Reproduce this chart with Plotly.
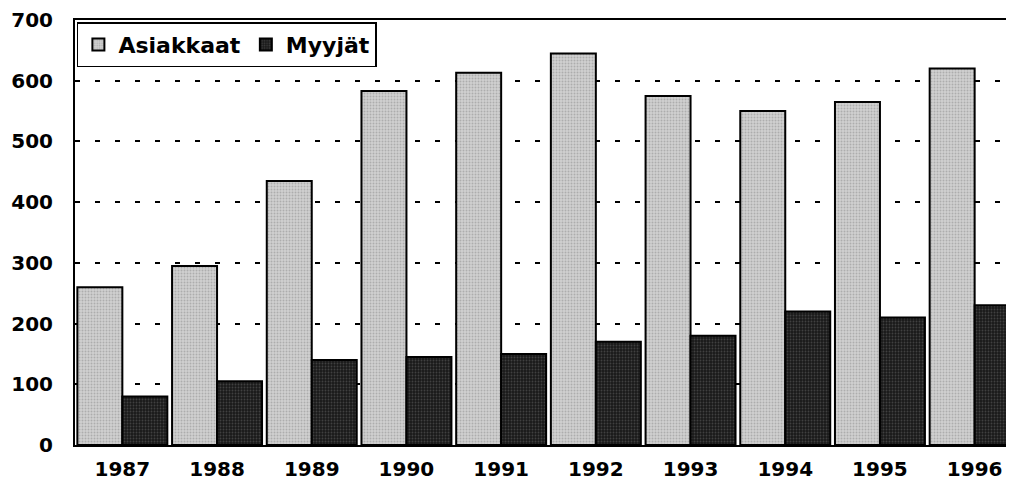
import plotly.graph_objects as go

years = ["1987", "1988", "1989", "1990", "1991", "1992", "1993", "1994", "1995", "1996"]
asiakkaat = [260, 295, 435, 583, 613, 645, 575, 550, 565, 620]
myyjat = [80, 105, 140, 145, 150, 170, 180, 220, 210, 230]
y_ticks = [0, 100, 200, 300, 400, 500, 600, 700]

font_family = "DejaVu Sans, Arial, sans-serif"

fig = go.Figure()
fig.add_trace(go.Bar(
    x=years, y=asiakkaat, name="Asiakkaat",
    marker=dict(color="#c4c4c4", line=dict(color="black", width=2),
                pattern=dict(shape=".", fgcolor="#8a8a8a", bgcolor="#d0d0d0", size=3, solidity=0.35)),
))
fig.add_trace(go.Bar(
    x=years, y=myyjat, name="Myyjät",
    marker=dict(color="#2a2a2a", line=dict(color="black", width=2),
                pattern=dict(shape=".", fgcolor="#666666", bgcolor="#1a1a1a", size=3, solidity=0.3)),
))

# page has an 8px body margin: offset the figure so the plot lands where the reference has it
fig.update_layout(
    width=1014, height=481,
    margin=dict(l=67, r=0, t=12, b=44),
    paper_bgcolor="white", plot_bgcolor="white",
    barmode="group", bargap=0.05, bargroupgap=0.0,
    font=dict(family=font_family, size=20, color="black"),
    legend=dict(
        orientation="h", x=0.002, y=0.995, xanchor="left", yanchor="top",
        bgcolor="white", bordercolor="black", borderwidth=1.5,
        font=dict(family=font_family, size=22, color="black", weight="bold"),
        itemwidth=30, tracegroupgap=0,
    ),
    showlegend=True,
)
fig.update_xaxes(
    range=[-0.5, 9.5],
    showline=True, linecolor="black", linewidth=2, mirror=True,
    showgrid=False, ticks="", ticklabelstandoff=5,
    tickfont=dict(family=font_family, size=20, color="black", weight="bold"),
)
fig.update_yaxes(
    range=[0, 700], tickvals=y_ticks, ticktext=[str(v) for v in y_ticks],
    showline=True, linecolor="black", linewidth=2,
    showgrid=True, gridcolor="black", gridwidth=2, griddash="5px,15px",
    zeroline=False, ticks="", ticklen=0, ticklabelstandoff=16,
    ticklabeloverflow="allow",
    tickfont=dict(family=font_family, size=20, color="black", weight="bold"),
)

fig.write_html("out.html")
